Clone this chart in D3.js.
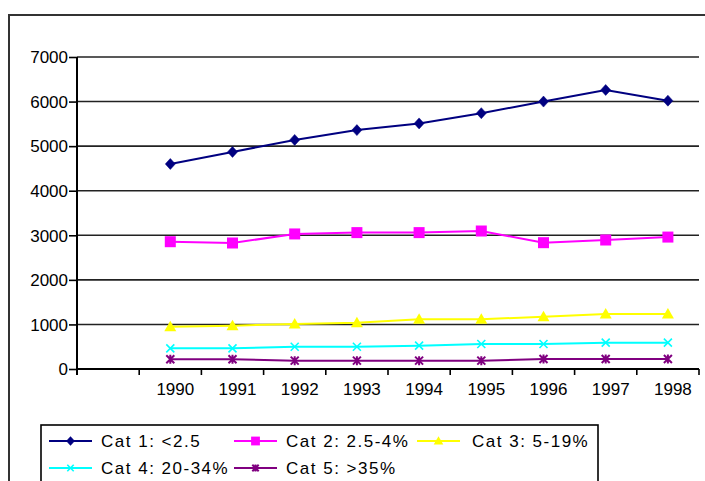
<!DOCTYPE html>
<html>
<head>
<meta charset="utf-8">
<script src="https://cdn.jsdelivr.net/npm/d3@7"></script>
<style>
  html, body { margin: 0; padding: 0; background: #fff; }
  svg { display: block; font-family: "Liberation Sans", Arial, sans-serif; }
</style>
</head>
<body>
<svg id="chart" width="705" height="481"></svg>
<script>
// ---- data ----
const categories = ["", "1990", "1991", "1992", "1993", "1994", "1995", "1996", "1997", "1998"];
const years = ["1990", "1991", "1992", "1993", "1994", "1995", "1996", "1997", "1998"];
const cat1 = [4600, 4870, 5140, 5360, 5510, 5740, 6000, 6260, 6020];
const cat2 = [2856, 2827, 3030, 3060, 3060, 3096, 2834, 2894, 2960];
const cat3 = [950, 972, 1010, 1040, 1114, 1114, 1174, 1234, 1234];
const cat4 = [464, 464, 500, 500, 523, 561, 561, 591, 591];
const cat5 = [217, 217, 187, 187, 187, 187, 224, 224, 224];
const seriesNames = ["Cat 1: <2.5", "Cat 2: 2.5-4%", "Cat 3: 5-19%", "Cat 4: 20-34%", "Cat 5: >35%"];
const yTicks = [0, 1000, 2000, 3000, 4000, 5000, 6000, 7000];

const series = [
  { name: seriesNames[0], values: cat1, color: "#000080", marker: "diamond" },
  { name: seriesNames[1], values: cat2, color: "#FF00FF", marker: "square" },
  { name: seriesNames[2], values: cat3, color: "#FFFF00", marker: "triangle" },
  { name: seriesNames[3], values: cat4, color: "#00FFFF", marker: "x" },
  { name: seriesNames[4], values: cat5, color: "#800080", marker: "star" }
];

const svg = d3.select("#chart");

// outer frame
svg.append("rect").attr("x", 9).attr("y", 15).attr("width", 760).attr("height", 520)
  .attr("fill", "none").attr("stroke", "#333").attr("stroke-width", 2);

const x = d3.scaleBand().domain(categories).range([77, 699]).paddingInner(0).paddingOuter(0);
const y = d3.scaleLinear().domain([0, 7000]).range([369, 57]);

// gridlines
svg.append("g").selectAll("line").data(yTicks.filter(d => d > 0)).join("line")
  .attr("x1", 77).attr("x2", 699)
  .attr("y1", d => y(d)).attr("y2", d => y(d))
  .attr("stroke", "#222").attr("stroke-width", 1.6);

// y axis
const yAxis = d3.axisLeft(y).tickValues(yTicks).tickSize(8).tickPadding(1).tickFormat(d3.format("d"));
const gy = svg.append("g").attr("transform", "translate(77,0)").call(yAxis);
gy.select(".domain").attr("stroke", "#000").attr("stroke-width", 2).attr("d", "M0,57V375");
gy.selectAll(".tick line").attr("stroke", "#000").attr("stroke-width", 1.6);
gy.selectAll(".tick text").attr("font-size", 17).attr("fill", "#000")
  .attr("font-family", "Liberation Sans, Arial, sans-serif").attr("dy", "0.34em");

// x axis
const xAxis = d3.axisBottom(x).tickSize(0).tickPadding(0).tickFormat(d => d);
const gx = svg.append("g").attr("transform", "translate(0,369)").call(xAxis);
gx.select(".domain").attr("stroke", "#000").attr("stroke-width", 2).attr("d", "M77,0H699");
gx.selectAll(".tick text").attr("font-size", 17).attr("fill", "#000")
  .attr("font-family", "Liberation Sans, Arial, sans-serif")
  .attr("x", 5).attr("y", 14).attr("dy", "0.71em");
// category boundary ticks
const boundaries = categories.map(c => x(c)).concat([x(categories[categories.length - 1]) + x.bandwidth()]);
svg.append("g").selectAll("line").data(boundaries).join("line")
  .attr("x1", d => d).attr("x2", d => d)
  .attr("y1", 369).attr("y2", 375)
  .attr("stroke", "#000").attr("stroke-width", 1.6);

const cx = d => x(d) + x.bandwidth() / 2;

function drawMarker(g, type, color, px, py, s) {
  s = s || 1;
  if (type === "diamond") {
    g.append("path").attr("d", `M${px},${py - 5.5 * s}L${px + 5 * s},${py}L${px},${py + 5.5 * s}L${px - 5 * s},${py}Z`)
      .attr("fill", color).attr("stroke", color).attr("stroke-width", 0.5);
  } else if (type === "square") {
    g.append("rect").attr("x", px - 5.5 * s).attr("y", py - 5.5 * s).attr("width", 11 * s).attr("height", 11 * s)
      .attr("fill", color);
  } else if (type === "triangle") {
    g.append("path").attr("d", `M${px},${py - 6 * s}L${px + 6 * s},${py + 4.5 * s}L${px - 6 * s},${py + 4.5 * s}Z`)
      .attr("fill", color);
  } else if (type === "x") {
    g.append("path").attr("d", `M${px - 4 * s},${py - 4 * s}L${px + 4 * s},${py + 4 * s}M${px + 4 * s},${py - 4 * s}L${px - 4 * s},${py + 4 * s}`)
      .attr("stroke", color).attr("stroke-width", 1.6).attr("fill", "none");
  } else if (type === "star") {
    g.append("path").attr("d", `M${px - 4 * s},${py - 4 * s}L${px + 4 * s},${py + 4 * s}M${px + 4 * s},${py - 4 * s}L${px - 4 * s},${py + 4 * s}M${px},${py - 4.5 * s}L${px},${py + 4.5 * s}`)
      .attr("stroke", color).attr("stroke-width", 2).attr("fill", "none");
  }
}

// series
const line = d3.line().x((d, i) => cx(years[i])).y(d => y(d));
const gs = svg.append("g");
series.forEach(s => {
  gs.append("path").datum(s.values).attr("d", line)
    .attr("fill", "none").attr("stroke", s.color).attr("stroke-width", 2);
});
series.forEach(s => {
  const gm = gs.append("g");
  s.values.forEach((v, i) => drawMarker(gm, s.marker, s.color, cx(years[i]), y(v)));
});

// legend
const lg = svg.append("g");
lg.append("rect").attr("x", 41).attr("y", 425).attr("width", 557).attr("height", 80)
  .attr("fill", "#fff").attr("stroke", "#000").attr("stroke-width", 1.6);
const legendPos = [
  { lx: 49, ty: 441 }, { lx: 234, ty: 441 }, { lx: 417, ty: 441 },
  { lx: 49, ty: 468 }, { lx: 234, ty: 468 }
];
series.forEach((s, i) => {
  const p = legendPos[i];
  lg.append("line").attr("x1", p.lx).attr("x2", p.lx + 43).attr("y1", p.ty).attr("y2", p.ty)
    .attr("stroke", s.color).attr("stroke-width", 2);
  drawMarker(lg, s.marker, s.color, p.lx + 21.5, p.ty, 0.8);
  lg.append("text").attr("x", p.lx + (i === 2 ? 55 : 52)).attr("y", p.ty).attr("dy", "0.36em")
    .attr("font-size", 17).attr("letter-spacing", "1.5px").attr("fill", "#000")
    .text(s.name);
});
</script>
</body>
</html>
